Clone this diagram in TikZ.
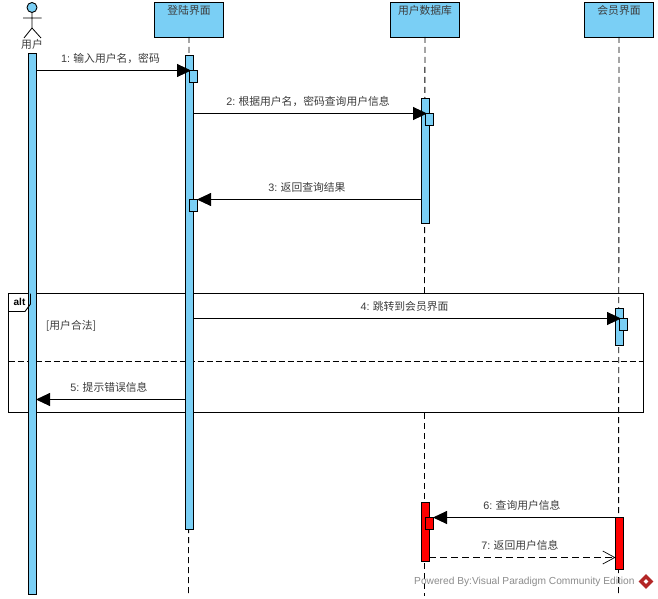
\documentclass[tikz,border=0pt]{standalone}
\usepackage{fontspec}
\setmainfont{Noto Sans CJK SC}
\setsansfont{Liberation Sans}
\usetikzlibrary{arrows.meta,shapes.geometric}
\definecolor{vpblue}{RGB}{122,207,245}
\definecolor{vptext}{RGB}{60,60,60}
\tikzset{
  life/.style={draw=black,fill=vpblue,line width=0.9pt,inner sep=0pt,outer sep=0pt,minimum width=69pt,minimum height=34.5pt,anchor=north west},
  lifetext/.style={font=\fontsize{10.8}{12}\selectfont,text=vptext,anchor=center,inner sep=0pt},
  bar/.style={draw=black,fill=vpblue,line width=0.9pt,inner sep=0pt,outer sep=0pt,minimum width=8pt,anchor=north west},
  redbar/.style={bar,fill=red},
  dashline/.style={draw=black,line width=0.9pt,dash pattern=on 6pt off 4pt},
  msg/.style={draw=black,line width=0.9pt,-{Triangle[length=14pt,width=13pt]}},
  ret/.style={draw=black,line width=0.9pt,dash pattern=on 7pt off 4pt,-{Straight Barb[length=12pt,width=13pt,line width=0.7pt]}},
  lbl/.style={font=\fontsize{10.8}{12}\selectfont,text=vptext,anchor=center,inner sep=0pt},
  framebox/.style={draw=black,line width=0.9pt,inner sep=0pt,outer sep=0pt,minimum width=635pt,minimum height=119pt,anchor=north west},
}
\begin{document}
\begin{tikzpicture}[x=1pt,y=-1pt]
\useasboundingbox[fill=white] (0,0) rectangle (658,599);
\coordinate (sepL) at (8.5,361.5);
\coordinate (sepR) at (643.5,361.5);
% lifeline heads
\node[life] (h1) at (154.5,2.5) {};
\node[life] (h2) at (390.5,2.5) {};
\node[life] (h3) at (584.5,2.5) {};
\node[lifetext] (t1txt) at (189,10.5) {登陆界面};
\node[lifetext] (t2txt) at (425,10.5) {用户数据库};
\node[lifetext] (t3txt) at (619,10.5) {会员界面};
% lifelines
\coordinate (e1) at (188.5,596);
\coordinate (e2a) at (424.5,293);
\coordinate (e2b) at (424.5,413);
\coordinate (e2c) at (424.5,596);
\coordinate (e3) at (618.5,596);
\draw[dashline] (h1.south) -- (e1);
\draw[dashline] (h2.south) -- (e2a);
\draw[dashline] (e2b) -- (e2c);
\draw[dashline] (h3.south) -- (e3);
\node[framebox] (frame) at (8.5,293.5) {};
\draw[dashline,dash pattern=on 6pt off 3pt] (sepL) -- (sepR);
% actor
\node[circle,draw=black,fill=vpblue,line width=0.9pt,minimum size=10pt,inner sep=0pt] (head) at (32,7.5) {};
\coordinate (hip) at (32,28);
\coordinate (armL) at (23,18);
\coordinate (armR) at (41.5,18);
\coordinate (legL) at (24,38);
\coordinate (legR) at (41,38);
\draw[black,line width=0.8pt] (head.south) -- (hip) (armL) -- (armR) (legL) -- (hip) -- (legR);
\node[lbl] (actorlabel) at (32,44.5) {用户};
% activation bars
\node[bar,minimum height=541pt] (a0) at (28,53.5) {};
\node[bar,minimum height=474pt] (a1) at (185,55.5) {};
\node[bar,minimum height=125pt] (a2) at (421,98.5) {};
\node[bar,minimum height=37pt] (a3) at (615.5,308.5) {};
\node[redbar,minimum height=59pt] (r2) at (421,502.5) {};
\node[redbar,minimum height=52pt] (r3) at (615.5,517.5) {};
% self sub-bars
\node[bar,minimum height=12pt] (s1) at (189.5,70.5) {};
\node[bar,minimum height=12pt] (s2) at (425.5,113.5) {};
\node[bar,minimum height=12pt] (s3) at (189,199.5) {};
\node[bar,minimum height=12pt] (s4) at (619.5,318.5) {};
\node[redbar,minimum height=12pt] (s5) at (425,517.5) {};
% messages
\coordinate (m1a) at (36,70.5);   \coordinate (m1b) at (191,70.5);
\coordinate (m2a) at (193,113.5); \coordinate (m2b) at (427,113.5);
\coordinate (m3a) at (421,199.5); \coordinate (m3b) at (197,199.5);
\coordinate (m4a) at (193,318.5); \coordinate (m4b) at (621,318.5);
\coordinate (m5a) at (185,399.5); \coordinate (m5b) at (36,399.5);
\coordinate (m6a) at (615.5,517.5); \coordinate (m6b) at (433,517.5);
\coordinate (m7a) at (429,557.5); \coordinate (m7b) at (615.5,557.5);
\draw[msg] (m1a) -- (m1b);
\draw[msg] (m2a) -- (m2b);
\draw[msg] (m3a) -- (m3b);
\draw[msg] (m4a) -- (m4b);
\draw[msg] (m5a) -- (m5b);
\draw[msg] (m6a) -- (m6b);
\draw[ret] (m7a) -- (m7b);
% labels
\node[lbl] (l1) at (110.5,58) {\textsf{1:} 输入用户名，密码};
\node[lbl] (l2) at (308,101) {\textsf{2:} 根据用户名，密码查询用户信息};
\node[lbl] (l3) at (307,187) {\textsf{3:} 返回查询结果};
\node[lbl] (l4) at (404.5,306) {\textsf{4:} 跳转到会员界面};
\node[lbl] (l5) at (109,387) {\textsf{5:} 提示错误信息};
\node[lbl] (l6) at (522,505) {\textsf{6:} 查询用户信息};
\node[lbl] (l7) at (520,545) {\textsf{7:} 返回用户信息};
\node[lbl] (guard) at (71,325.5) {[用户合法]};
% alt tab
\coordinate (t1) at (8.5,311.5);
\coordinate (t2) at (25,311.5);
\coordinate (t3) at (30.5,304);
\coordinate (t4) at (30.5,293.5);
\draw[black,line width=0.9pt] (t1) -- (t2) -- (t3) -- (t4);
\node[font=\sffamily\bfseries\fontsize{10}{12}\selectfont,inner sep=0pt] (alttxt) at (19.5,301.5) {alt};
% watermark
\node[font=\sffamily\fontsize{10.2}{12}\selectfont,text=black!45,anchor=west,inner sep=0pt] (wm) at (414,582) {Powered By:Visual Paradigm Community Edition};
\node[diamond,fill=red!65!black!85!white,minimum size=15pt,inner sep=0pt] (logo) at (646,581.5) {};
\node[diamond,fill=white,minimum size=5pt,inner sep=0pt] (logoin) at (646,581.5) {};
\end{tikzpicture}
\end{document}
